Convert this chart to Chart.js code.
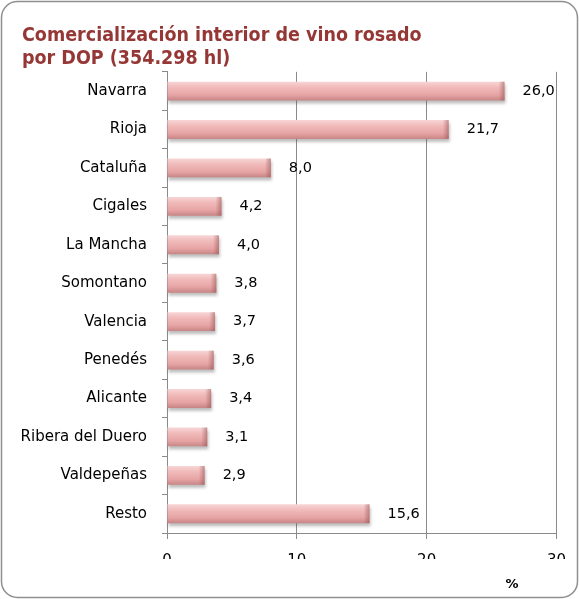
<!DOCTYPE html>
<html lang="es">
<head>
<meta charset="UTF-8">
<title>Comercialización interior de vino rosado</title>
<script src="https://cdn.jsdelivr.net/npm/chart.js"></script>
<style>
  * { margin: 0; padding: 0; box-sizing: border-box; }
  body { background: #fff; }
</style>
</head>
<body>
<canvas id="grafico" width="579" height="599"></canvas>
<script>
// datos
const categorias = ["Navarra", "Rioja", "Cataluña", "Cigales", "La Mancha", "Somontano",
  "Valencia", "Penedés", "Alicante", "Ribera del Duero", "Valdepeñas", "Resto"];
const porcentajes = [26.0, 21.7, 8.0, 4.2, 4.0, 3.8, 3.7, 3.6, 3.4, 3.1, 2.9, 15.6];
const ticksX = [0, 10, 20, 30];
const titulo = ["Comercialización interior de vino rosado", "por DOP (354.298 hl)"];

const fuente = "'DejaVu Sans', sans-serif";
const grosor = 0.49;

// marco redondeado + sombra de las barras + etiquetas
const extras = {
  id: 'extras',
  beforeDraw(chart) {
    const c = chart.ctx;
    c.save();
    c.fillStyle = '#fff';
    c.fillRect(0, 0, chart.width, chart.height);
    c.strokeStyle = '#8f8f8f';
    c.lineWidth = 1.5;
    c.beginPath();
    c.roundRect(1.5, 1.5, chart.width - 3, chart.height - 3, 16);
    c.stroke();
    c.restore();
  },
  beforeDatasetsDraw(chart) {
    // sombra gris bajo cada barra
    const c = chart.ctx;
    c.save();
    c.filter = 'blur(1.5px)';
    c.fillStyle = 'rgba(90,90,90,0.4)';
    chart.getDatasetMeta(0).data.forEach(bar => {
      const h = bar.height;
      c.fillRect(bar.base + 1, bar.y - h / 2 + 3, bar.x - bar.base, h);
    });
    c.restore();
  },
  afterDatasetsDraw(chart) {
    const c = chart.ctx;
    c.save();
    // bisel del extremo derecho
    chart.getDatasetMeta(0).data.forEach(bar => {
      const h = bar.height;
      const g = c.createLinearGradient(bar.x - 6, 0, bar.x, 0);
      g.addColorStop(0, 'rgba(150,80,80,0)');
      g.addColorStop(1, 'rgba(150,80,80,0.55)');
      c.fillStyle = g;
      c.fillRect(bar.x - 6, bar.y - h / 2, 6, h);
    });
    c.fillStyle = '#000';
    c.font = '14.5px ' + fuente;
    c.textBaseline = 'middle';
    chart.getDatasetMeta(0).data.forEach((bar, i) => {
      c.fillText(porcentajes[i].toFixed(1).replace('.', ','), bar.x + 18, bar.y);
    });
    c.font = 'bold 13px ' + fuente;
    c.textAlign = 'center';
    c.fillText('%', 512, 585);
    c.restore();
  }
};

function relleno(context) {
  const y = context.chart.scales.y;
  const yc = y && y.getPixelForValue(context.dataIndex);
  if (!Number.isFinite(yc) || !Number.isFinite(y.height)) return '#eeb0b0';
  const h = y.height / categorias.length * grosor;
  const g = context.chart.ctx.createLinearGradient(0, yc - h / 2, 0, yc + h / 2);
  g.addColorStop(0, '#f7d6d6');
  g.addColorStop(0.3, '#f1baba');
  g.addColorStop(0.7, '#e7a4a4');
  g.addColorStop(1, '#c88585');
  return g;
}

const ctx = document.getElementById('grafico');
new Chart(ctx, {
  type: 'bar',
  data: {
    labels: categorias,
    datasets: [{
      data: porcentajes,
      backgroundColor: relleno,
      borderWidth: 0,
      barPercentage: grosor,
      categoryPercentage: 1
    }]
  },
  options: {
    indexAxis: 'y',
    responsive: false,
    animation: false,
    devicePixelRatio: 1,
    layout: { padding: { left: 22, right: 22, top: 25, bottom: 40 } },
    plugins: {
      legend: { display: false },
      tooltip: { enabled: false },
      title: {
        display: true,
        text: titulo,
        align: 'start',
        color: '#953735',
        font: { family: "'DejaVu Sans Condensed', sans-serif", size: 19.5, weight: 'bold', lineHeight: 1.15 },
        padding: { top: 0, bottom: 2 }
      }
    },
    scales: {
      x: {
        min: 0,
        max: 30,
        afterBuildTicks: (axis) => { axis.ticks = ticksX.map(v => ({ value: v })); },
        afterFit: (axis) => { axis.height = 26; },
        grid: { color: '#8a8a8a', lineWidth: 1, tickLength: 6, drawTicks: true },
        border: { color: '#8a8a8a' },
        ticks: { color: '#000', font: { family: fuente, size: 15 }, padding: 13 }
      },
      y: {
        afterFit: (axis) => { axis.width = 145; },
        grid: { drawOnChartArea: false, color: '#8a8a8a', tickLength: 5, offset: true },
        border: { color: '#8a8a8a' },
        ticks: { color: '#000', font: { family: fuente, size: 15 }, padding: 15 }
      }
    }
  },
  plugins: [extras]
});
</script>
</body>
</html>
